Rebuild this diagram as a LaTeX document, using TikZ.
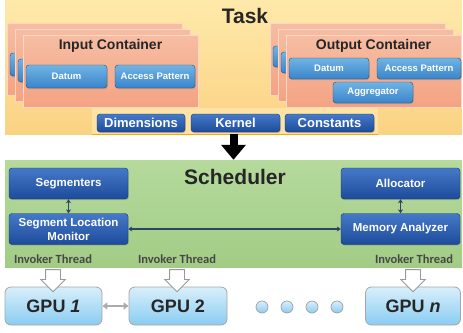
\documentclass[tikz,border=0pt]{standalone}
\usepackage{fontspec}
\setmainfont{Liberation Sans}
\newfontfamily\invfont{Carlito}
\usetikzlibrary{arrows.meta,shapes.arrows,shadows,calc}

\definecolor{taskhi}{HTML}{FEE9AA}
\definecolor{tasklo}{HTML}{FBD283}
\definecolor{conthi}{HTML}{F6BDA3}
\definecolor{contlo}{HTML}{F4A382}
\definecolor{lbluehi}{HTML}{70B4E4}
\definecolor{lbluelo}{HTML}{3A84CA}
\definecolor{dbluehi}{HTML}{4579C8}
\definecolor{dbluelo}{HTML}{1E4B9B}
\definecolor{schedhi}{HTML}{B5DA9C}
\definecolor{schedlo}{HTML}{A2CC86}
\definecolor{gpuhi}{HTML}{D8EFFB}
\definecolor{gpulo}{HTML}{8ACCF1}
\definecolor{navy}{HTML}{2D4366}
\definecolor{ink}{HTML}{262626}

\tikzset{
  panel/.style={inner sep=0pt, top color=#1hi, bottom color=#1lo},
  layer/.style={inner sep=0pt, top color=conthi, bottom color=contlo,
    draw=conthi!60!white, minimum width=175pt, minimum height=72pt},
  title/.style={text=ink, font=\bfseries\fontsize{21}{21}\selectfont},
  ctitle/.style={text=ink, font=\bfseries\fontsize{14}{14}\selectfont},
  btn/.style={rounded corners=3pt, inner sep=0pt, text=white, align=center,
    drop shadow={shadow xshift=0.8pt, shadow yshift=-1.2pt, opacity=0.35}},
  field/.style={btn, top color=lbluehi, bottom color=lbluelo,
    draw=lbluelo!60!black, font=\bfseries\fontsize{9.5}{10}\selectfont},
  param/.style={btn, top color=dbluehi, bottom color=dbluelo,
    draw=dbluelo!70!black, minimum height=18pt,
    font=\bfseries\fontsize{13}{13}\selectfont},
  unit/.style={btn, top color=dbluehi, bottom color=dbluelo,
    draw=dbluelo!70!black, minimum width=119pt, minimum height=31pt,
    font=\bfseries\fontsize{11.5}{14}\selectfont},
  invoker/.style={text=ink!85, font=\invfont\bfseries\fontsize{12.5}{12}\selectfont},
  invarrow/.style={single arrow, shape border rotate=270, draw=gray!80, fill=white,
    line width=0.8pt, inner sep=7pt, single arrow head extend=5pt,
    single arrow tip angle=90, minimum height=20pt},
  gpu/.style={rounded corners=6pt, top color=gpuhi, bottom color=gpulo,
    draw=gray!70, line width=0.8pt, minimum height=38pt, text=ink,
    font=\bfseries\fontsize{18}{18}\selectfont},
  dot/.style={circle, inner sep=0pt, minimum size=12pt, top color=gpuhi,
    bottom color=gpulo, draw=gray!75, line width=0.7pt},
  link/.style={navy, line width=1.4pt, {Stealth[length=4pt,width=5pt]}-{Stealth[length=4pt,width=5pt]}},
}

\begin{document}
\begin{tikzpicture}[x=1pt,y=-1pt]
  \useasboundingbox (0,0) rectangle (463,332);

  % task
  \node[panel=task, minimum width=457pt, minimum height=134pt] (task) at (233.5,67) {};
  \node[fill=taskhi!70!white, fill opacity=0.5, inner sep=0pt,
    minimum width=286pt, minimum height=26pt] (band) at (235,121) {};
  \draw[orange!70!yellow, line width=0.8pt] (band.south west) -- (band.south east);
  \node[title] (task-title) at (245,16) {Task};

  % the two copies stacked behind each container
  \foreach \k in {2,1} {
    \begin{scope}[shift={(-8*\k,-6*\k)}]
      \node[layer] (in-\k) at (110.5,71) {};
      \node[field, minimum width=81pt, minimum height=23pt] (in-datum-\k) at (66.5,76.5) {};
      \node[layer] (out-\k) at (373.5,71) {};
      \node[field, minimum width=80pt, minimum height=21pt] (out-datum-\k) at (329,68.5) {};
    \end{scope}
  }

  \node[layer] (in) at (110.5,71) {};
  \node[ctitle] (in-title) at (110.5,46) {Input Container};
  \node[field, minimum width=81pt, minimum height=23pt] (in-datum) at (66.5,76.5) {Datum};
  \node[field, minimum width=80pt, minimum height=23pt] (in-access) at (155,76.5) {Access Pattern};

  \node[layer] (out) at (373.5,71) {};
  \node[ctitle] (out-title) at (373.5,46) {Output Container};
  \node[field, minimum width=80pt, minimum height=21pt] (out-datum) at (329,68.5) {Datum};
  \node[field, minimum width=84pt, minimum height=21pt] (out-access) at (419,68.5) {Access Pattern};
  \node[field, minimum width=80pt, minimum height=21pt] (out-aggr) at (373,92.5) {Aggregator};

  \node[param, minimum width=88pt] (dims) at (141,123) {Dimensions};
  \node[param, minimum width=89pt] (kernel) at (235.5,123) {Kernel};
  \node[param, minimum width=89pt] (consts) at (329.5,123) {Constants};

  % scheduler
  \node[panel=sched, minimum width=457pt, minimum height=107pt] (sched) at (233.5,213.5) {};
  \node[title] (sched-title) at (235,177) {Scheduler};
  \draw[line width=8pt, -{Triangle[length=15pt,width=24pt]}] (task.south) -- (sched.north);

  \node[unit] (segm) at (68.5,183.5) {Segmenters};
  \node[unit] (slm) at (68.5,229) {Segment Location\\Monitor};
  \node[unit] (alloc) at (400.5,183.5) {Allocator};
  \node[unit] (mema) at (400.5,229) {Memory Analyzer};

  \draw[link] (segm) -- (slm);
  \draw[link] (alloc) -- (mema);
  \draw[link] (slm) -- (mema);

  % gpus
  \node[gpu, minimum width=97pt] (gpu1) at (53.5,306) {GPU \textit{1}};
  \node[gpu, minimum width=98pt] (gpu2) at (178,306) {GPU 2};
  \node[gpu, minimum width=95pt] (gpun) at (413,306) {GPU \textit{n}};
  \draw[gray!65, line width=2pt, {Triangle[length=5pt,width=7pt]}-{Triangle[length=5pt,width=7pt]}]
    (gpu1) -- (gpu2);

  \foreach \i/\x in {1/262,2/287,3/312,4/337}
    \node[dot] (dot\i) at (\x,307) {};

  \node[invoker] (inv1) at (53,259) {Invoker Thread};
  \node[invoker] (inv2) at (177,259) {Invoker Thread};
  \node[invoker] (invn) at (414,259) {Invoker Thread};
  \node[invarrow] (arr1) at (53,277) {};
  \node[invarrow] (arr2) at (177,277) {};
  \node[invarrow] (arrn) at (413,277) {};
\end{tikzpicture}
\end{document}
